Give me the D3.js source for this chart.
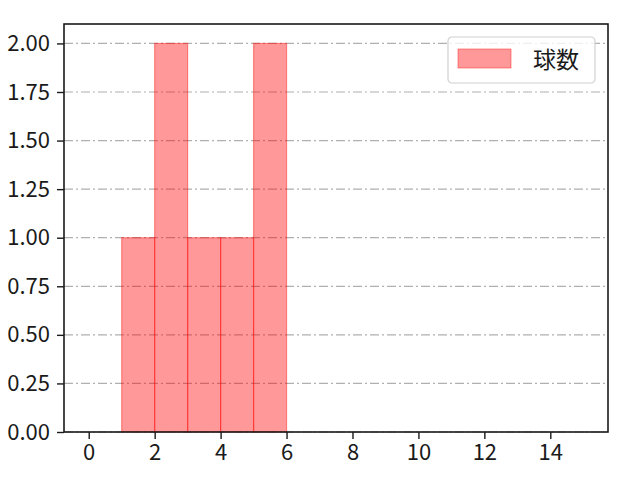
<!DOCTYPE html>
<html>
<head>
<meta charset="utf-8">
<script src="https://cdn.jsdelivr.net/npm/d3@7"></script>
<style>
  body { margin: 0; background: #fff; }
  text { font-family: "Noto Sans CJK JP", "Noto Sans", sans-serif; }
</style>
</head>
<body>
<script>
const width = 640;
const height = 480;

// histogram bins (left edge, right edge) and counts
const binStarts = [1, 2, 3, 4, 5];
const binEnds = [2, 3, 4, 5, 6];
const counts = [1, 2, 1, 1, 2];

const xTicks = [0, 2, 4, 6, 8, 10, 12, 14];
const yTicks = [0, 0.25, 0.5, 0.75, 1.0, 1.25, 1.5, 1.75, 2.0];
const seriesName = "球数";

const margin = { left: 64, right: 32, top: 24, bottom: 48 };
const FONT_SIZE = 22;

const svg = d3.select("body")
	.append("svg")
	.attr("width", width)
	.attr("height", height);

const x = d3.scaleLinear()
	.domain([-0.75, 15.75])
	.range([margin.left, width - margin.right]);

const y = d3.scaleLinear()
	.domain([0, 2.1])
	.range([height - margin.bottom, margin.top]);

// grid
svg.append("g")
	.selectAll("line")
	.data(yTicks)
	.enter()
	.append("line")
	.attr("x1", margin.left)
	.attr("x2", width - margin.right)
	.attr("y1", function (d) { return y(d); })
	.attr("y2", function (d) { return y(d); })
	.attr("stroke", "#b0b0b0")
	.attr("stroke-width", 1.2)
	.attr("stroke-dasharray", "9,3,2,3");

const bins = counts.map(function (c, i) {
	return { x0: binStarts[i], x1: binEnds[i], n: c };
});

svg.append("g")
	.selectAll("rect")
	.data(bins)
	.enter()
	.append("rect")
	.attr("x", function (d) { return x(d.x0); })
	.attr("y", function (d) { return y(d.n); })
	.attr("width", function (d) { return x(d.x1) - x(d.x0); })
	.attr("height", function (d) { return y(0) - y(d.n); })
	.attr("fill", "#ff0000")
	.attr("fill-opacity", 0.4)
	.attr("stroke", "#ff0000")
	.attr("stroke-opacity", 0.4)
	.attr("stroke-width", 1.2);

// axes
const xAxis = svg.append("g")
	.attr("transform", "translate(0," + (height - margin.bottom) + ")")
	.call(d3.axisBottom(x).tickValues(xTicks).tickSize(7).tickPadding(5));

const yAxis = svg.append("g")
	.attr("transform", "translate(" + margin.left + ",0)")
	.call(d3.axisLeft(y).tickValues(yTicks).tickSize(7).tickPadding(7)
		.tickFormat(d3.format(".2f")));

[xAxis, yAxis].forEach(function (g) {
	g.select(".domain").remove();
	g.selectAll("line").attr("stroke", "#1a1a1a").attr("stroke-width", 1.4);
	g.selectAll("text")
		.attr("fill", "#1a1a1a")
		.attr("font-size", FONT_SIZE + "px")
		.style("font-family", "'Noto Sans CJK JP', sans-serif");
});

// frame
svg.append("rect")
	.attr("x", margin.left)
	.attr("y", margin.top)
	.attr("width", width - margin.left - margin.right)
	.attr("height", height - margin.top - margin.bottom)
	.attr("fill", "none")
	.attr("stroke", "#1a1a1a")
	.attr("stroke-width", 1.6);

// legend
const legend = svg.append("g").attr("transform", "translate(448,37)");
legend.append("rect")
	.attr("width", 147)
	.attr("height", 46)
	.attr("rx", 4)
	.attr("fill", "#fff")
	.attr("fill-opacity", 0.8)
	.attr("stroke", "#d0d0d0")
	.attr("stroke-width", 1.2);
legend.append("rect")
	.attr("x", 10)
	.attr("y", 12)
	.attr("width", 53)
	.attr("height", 19)
	.attr("fill", "#ff0000")
	.attr("fill-opacity", 0.4)
	.attr("stroke", "#ff0000")
	.attr("stroke-opacity", 0.4);
legend.append("text")
	.attr("x", 85)
	.attr("y", 31)
	.attr("font-size", "23px")
	.attr("fill", "#1a1a1a")
	.text(seriesName);
</script>
</body>
</html>
